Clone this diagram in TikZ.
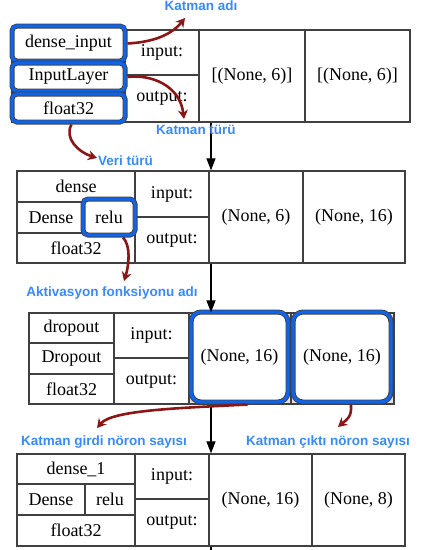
\documentclass[tikz,border=0pt]{standalone}
\usepackage{fontspec}
\setmainfont{Liberation Serif}
\newfontfamily\notefont{Liberation Sans}
\usepackage{tikz}
\usetikzlibrary{arrows.meta, fit, calc}
\definecolor{hlblue}{RGB}{15,100,235}
\definecolor{noteblue}{RGB}{55,138,250}
\definecolor{darkred}{RGB}{140,22,22}

\begin{document}
\begin{tikzpicture}[x=1pt, y=1pt, >=Stealth,
  cell/.style={draw=black!75, line width=1.3pt, inner sep=0pt},
  tx/.style={label={[font=\fontsize{18}{20}\selectfont, inner sep=0pt]center:{#1}}},
  hl/.style={draw=black!75, line width=5pt, fill=white, rounded corners=5pt, inner sep=0pt,
    postaction={draw=hlblue, line width=3.2pt}},
  note/.style={text=noteblue, font=\notefont\bfseries\fontsize{13.5}{15}\selectfont, inner sep=1pt},
  callout/.style={draw=darkred, line width=2.6pt, -{Stealth[length=9pt, width=10pt]}},
  flow/.style={draw=black, line width=1.2pt, -{Triangle[length=12pt, width=9pt]}}]
  \useasboundingbox (0,0) rectangle (422,-550);

  % layer 1: dense_input
  \node[cell, fit={(12,-30) (125,-61)}] (b1n) {};
  \node[cell, fit={(12,-61) (125,-92)}] (b1t) {};
  \node[cell, fit={(12,-92) (125,-122)}] (b1d) {};
  \node[cell, tx={input:}, fit={(125,-30) (199,-75)}] (b1i) {};
  \node[cell, tx={output:}, fit={(125,-75) (199,-122)}] (b1o) {};
  \node[cell, tx={[(None, 6)]}, fit={(199,-30) (305,-122)}] (b1in) {};
  \node[cell, tx={[(None, 6)]}, fit={(305,-30) (410,-122)}] (b1out) {};
  \node[hl, tx={dense\_input}, fit={(12,-26) (125,-61)}] (hlname) {};
  \node[hl, tx={InputLayer}, fit={(12,-63) (125,-91)}] (hltype) {};
  \node[hl, tx={float32}, fit={(12,-94) (125,-122)}] (hldtype) {};

  % layer 2: dense
  \node[cell, tx={dense}, fit={(17,-171) (135,-202)}] (b2n) {};
  \node[cell, tx={Dense}, fit={(17,-202) (85,-233)}] (b2t) {};
  \node[cell, fit={(85,-202) (135,-233)}] (b2a) {};
  \node[cell, tx={float32}, fit={(17,-233) (135,-263)}] (b2d) {};
  \node[cell, tx={input:}, fit={(135,-171) (209,-217)}] (b2i) {};
  \node[cell, tx={output:}, fit={(135,-217) (209,-263)}] (b2o) {};
  \node[cell, tx={(None, 6)}, fit={(209,-171) (303,-263)}] (b2in) {};
  \node[cell, tx={(None, 16)}, fit={(303,-171) (405,-263)}] (b2out) {};
  \node[hl, tx={relu}, fit={(83,-199) (135,-235)}] (hlact) {};

  % layer 3: dropout
  \node[cell, tx={dropout}, fit={(29,-313) (114,-343)}] (b3n) {};
  \node[cell, tx={Dropout}, fit={(29,-343) (114,-374)}] (b3t) {};
  \node[cell, tx={float32}, fit={(29,-374) (114,-404)}] (b3d) {};
  \node[cell, tx={input:}, fit={(114,-313) (189,-358)}] (b3i) {};
  \node[cell, tx={output:}, fit={(114,-358) (189,-404)}] (b3o) {};
  \node[cell, fill=black!12, fit={(189,-313) (291,-404)}] (b3in) {};
  \node[cell, fill=black!12, fit={(291,-313) (394,-404)}] (b3out) {};
  \node[hl, rounded corners=10pt, tx={(None, 16)}, fit={(191,-312) (288,-402)}] (hlin) {};
  \node[hl, rounded corners=10pt, tx={(None, 16)}, fit={(293,-312) (391,-402)}] (hlout) {};

  % layer 4: dense_1
  \node[cell, tx={dense\_1}, fit={(17,-454) (135,-484)}] (b4n) {};
  \node[cell, tx={Dense}, fit={(17,-484) (85,-515)}] (b4t) {};
  \node[cell, tx={relu}, fit={(85,-484) (135,-515)}] (b4a) {};
  \node[cell, tx={float32}, fit={(17,-515) (135,-546)}] (b4d) {};
  \node[cell, tx={input:}, fit={(135,-454) (209,-499)}] (b4i) {};
  \node[cell, tx={output:}, fit={(135,-499) (209,-546)}] (b4o) {};
  \node[cell, tx={(None, 16)}, fit={(209,-454) (312,-546)}] (b4in) {};
  \node[cell, tx={(None, 8)}, fit={(312,-454) (405,-546)}] (b4out) {};

  % flow between layers
  \coordinate (f) at (211,0);
  \coordinate (fend) at (211,-550);
  \draw[flow] (b1in.south -| f) -- (b2in.north -| f);
  \draw[flow] (b2in.south -| f) -- (b3in.north -| f);
  \draw[flow] (b3in.south -| f) -- (b4in.north -| f);
  \draw[line width=1.2pt] (b4in.south -| f) -- (fend);

  % annotations
  \node[note] (nname) at (201,-6) {Katman adı};
  \node[note] (ntype) at (196,-130) {Katman türü};
  \node[note, anchor=west] (ndtype) at (97,-161) {Veri türü};
  \node[note] (nact) at (112,-293) {Aktivasyon fonksiyonu adı};
  \node[note] (nin) at (104,-442) {Katman girdi nöron sayısı};
  \node[note] (nout) at (328,-442) {Katman çıktı nöron sayısı};

  \coordinate (tname) at (185,-18);
  \coordinate (ttype) at (184,-119);
  \coordinate (tdtype) at (97,-158);
  \coordinate (tact) at (124,-281);
  \coordinate (tin) at (97,-428);
  \coordinate (tout) at (338,-427);
  \draw[callout] (hlname.east) .. controls (155,-42) and (172,-34) .. (tname);
  \draw[callout] (hltype.east) .. controls (152,-74) and (180,-86) .. (ttype);
  \draw[callout] ([xshift=3pt]hldtype.south) .. controls (64,-138) and (78,-152) .. (tdtype);
  \draw[callout] ([xshift=14pt]hlact.south) .. controls (131,-246) and (129,-265) .. (tact);
  \draw[callout] ([xshift=8pt]hlin.south) .. controls (180,-408) and (112,-410) .. (tin);
  \draw[callout] ([xshift=9pt]hlout.south) .. controls (352,-418) and (346,-420) .. (tout);
\end{tikzpicture}
\end{document}
